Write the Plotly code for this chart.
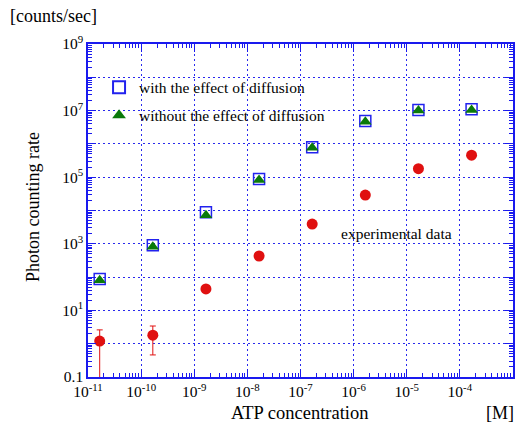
import plotly.graph_objects as go

atp = [1.66e-11, 1.66e-10, 1.66e-9, 1.66e-8, 1.66e-7, 1.66e-6, 1.66e-5, 1.66e-4]
with_diff = [87, 900, 8900, 8.9e4, 8.0e5, 4.9e6, 1.05e7, 1.1e7]
without_diff = [80, 820, 7200, 8.3e4, 7.6e5, 4.6e6, 1.0e7, 1.05e7]
exp_x = atp
exp_y = [1.2, 1.8, 44, 430, 3900, 2.9e4, 1.8e5, 4.6e5]
exp_err_plus = [1.4, 1.6, 0, 0, 0, 0, 0, 0]
exp_err_minus = [1.19, 1.34, 0, 0, 0, 0, 0, 0]

x_tickvals = [1e-11, 1e-10, 1e-9, 1e-8, 1e-7, 1e-6, 1e-5, 1e-4, 1e-3]
x_ticktext = ["10<sup>-11</sup>", "10<sup>-10</sup>", "10<sup>-9</sup>", "10<sup>-8</sup>",
              "10<sup>-7</sup>", "10<sup>-6</sup>", "10<sup>-5</sup>", "10<sup>-4</sup>", "0.001"]
y_tickvals = [0.1, 1, 10, 100, 1e3, 1e4, 1e5, 1e6, 1e7, 1e8, 1e9]
y_ticktext = ["0.1", "", "10<sup>1</sup>", "", "10<sup>3</sup>", "", "10<sup>5</sup>", "",
              "10<sup>7</sup>", "", "10<sup>9</sup>"]

FONT = "Times New Roman, Liberation Serif, DejaVu Serif, serif"
BLUE = "#1a1aee"

x_minor = [m * 10 ** e for e in range(-11, -3) for m in range(2, 10)]
y_minor = [m * 10 ** e for e in range(-1, 9) for m in range(2, 10)]

fig = go.Figure()
fig.add_trace(go.Scatter(
    x=atp, y=with_diff, mode="markers", name="with the effect of diffusion",
    legendgroup="a",
    marker=dict(symbol="square-open", size=11, color="#2222ee", line=dict(width=1.5, color="#2222ee")),
))
fig.add_trace(go.Scatter(
    x=atp, y=without_diff, mode="markers", name="without the effect of diffusion",
    legendgroup="b",
    marker=dict(symbol="triangle-up", size=11, color="#0a7a0a"),
))
fig.add_trace(go.Scatter(
    x=exp_x, y=exp_y, mode="markers", name="experimental data", showlegend=False,
    marker=dict(symbol="circle", size=11, color="#e01010"),
    error_y=dict(type="data", symmetric=False, array=exp_err_plus, arrayminus=exp_err_minus,
                 color="#e01010", thickness=1, width=3),
))

axis_common = dict(
    type="log", showline=True, linecolor=BLUE, linewidth=1.5, mirror="allticks",
    ticks="inside", ticklen=8, tickcolor=BLUE, tickwidth=1,
    showgrid=True, gridcolor="#2a2aee", griddash="2px,3px", gridwidth=1,
    zeroline=False, tickfont=dict(family=FONT, size=15.5, color="black"),
)

fig.update_xaxes(
    **axis_common, range=[-11, -3], tickmode="array", tickvals=x_tickvals, ticktext=x_ticktext,
    minor=dict(tickmode="array", tickvals=x_minor, ticks="inside", ticklen=4, tickcolor=BLUE, showgrid=False),
)
fig.update_yaxes(
    **axis_common, range=[-1, 9], tickmode="array", tickvals=y_tickvals, ticktext=y_ticktext,
    minor=dict(tickmode="array", tickvals=y_minor, ticks="inside", ticklen=4, tickcolor=BLUE, showgrid=False),
)

fig.update_layout(
    width=529, height=426,
    margin=dict(l=88, r=16, t=44, b=49),
    paper_bgcolor="white", plot_bgcolor="white",
    font=dict(family=FONT, size=14, color="black"),
    legend=dict(x=0.026, y=0.92, xanchor="left", yanchor="top", bgcolor="rgba(0,0,0,0)",
                font=dict(family=FONT, size=15.5, color="black"), tracegroupgap=5,
                itemsizing="constant"),
    annotations=[
        dict(text="ATP concentration", x=0.499, y=0, xref="paper", yref="paper",
             xanchor="center", yanchor="top", yshift=-24, showarrow=False, font=dict(size=18.5)),
        dict(text="[M]", x=0.969, y=0, xref="paper", yref="paper",
             xanchor="center", yanchor="top", yshift=-24, showarrow=False, font=dict(size=18)),
        dict(text="[counts/sec]", x=-0.188, y=1, xref="paper", yref="paper",
             xanchor="left", yanchor="middle", yshift=28, showarrow=False, font=dict(size=18)),
        dict(text="Photon counting rate", x=-0.13, y=0.51, xref="paper", yref="paper",
             xanchor="center", yanchor="middle", textangle=-90, showarrow=False, font=dict(size=18)),
        dict(text="experimental data", x=0.725, y=0.432, xref="paper", yref="paper",
             xanchor="center", yanchor="middle", showarrow=False, font=dict(size=15.5)),
    ],
)

fig.write_html("out.html", config={"displayModeBar": False},
               post_script="document.body.style.margin='0';document.body.style.padding='0';")
